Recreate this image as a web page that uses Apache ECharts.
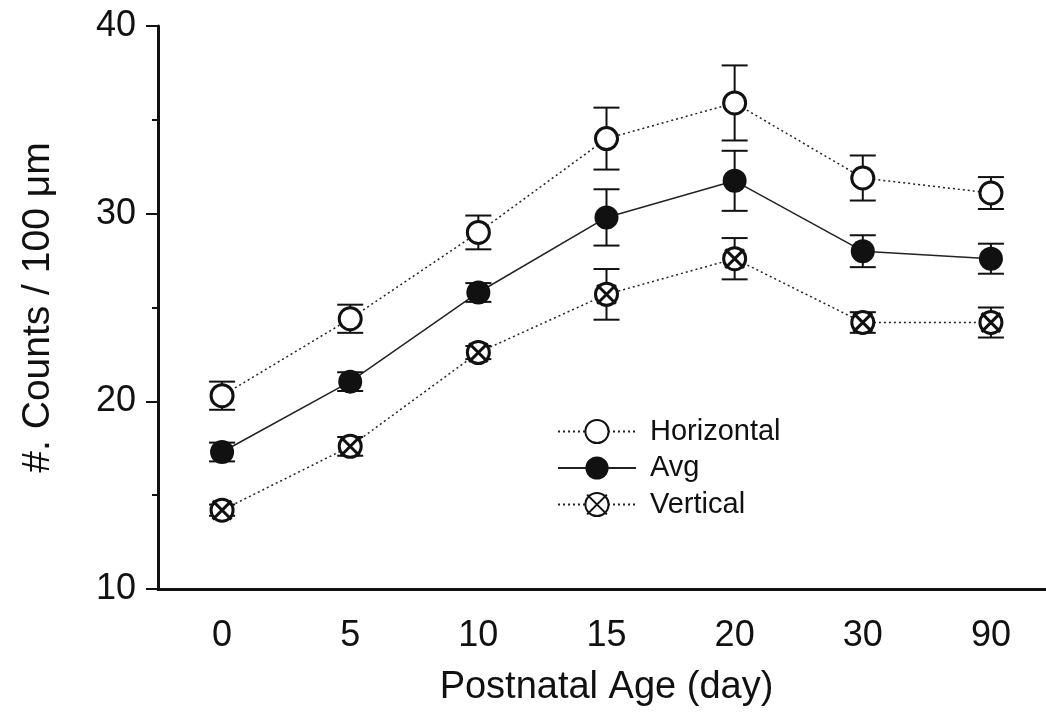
<!DOCTYPE html>
<html>
<head>
<meta charset="utf-8">
<script src="https://cdn.jsdelivr.net/npm/echarts@6/dist/echarts.min.js"></script>
<style>
  html, body { margin: 0; padding: 0; background: #fff; }
  #chart { width: 1046px; height: 724px; }
</style>
</head>
<body>
<div id="chart"></div>
<script>
// 数据
const ages = ['0', '5', '10', '15', '20', '30', '90'];
const horizontal = [20.3, 24.4, 29.0, 34.0, 35.9, 31.9, 31.1];
const horizontalErr = [0.75, 0.75, 0.9, 1.65, 2.0, 1.2, 0.85];
const avg = [17.3, 21.05, 25.8, 29.8, 31.75, 28.0, 27.6];
const avgErr = [0.5, 0.5, 0.5, 1.5, 1.6, 0.85, 0.8];
const vertical = [14.2, 17.6, 22.6, 25.7, 27.6, 24.2, 24.2];
const verticalErr = [0.3, 0.5, 0.35, 1.35, 1.1, 0.55, 0.8];

const FONT = '"Liberation Sans", Arial, sans-serif';
const INK = '#111';

// 带叉的圆圈
const crossCircle = 'path://M0,10A10,10 0 1,1 20,10A10,10 0 1,1 0,10Z M1.5,1.5L18.5,18.5M18.5,1.5L1.5,18.5';

// 误差线
function errorSeries(name, values, errs) {
    return {
        type: 'custom',
        name: name + ' err',
        z: 1,
        silent: true,
        data: values.map((v, i) => [i, v - errs[i], v + errs[i]]),
        renderItem: (params, api) => {
            const lo = api.coord([api.value(0), api.value(1)]);
            const hi = api.coord([api.value(0), api.value(2)]);
            const hw = 13;
            const style = { stroke: INK, lineWidth: 2 };
            return {
                type: 'group',
                children: [
                    { type: 'line', shape: { x1: lo[0], y1: lo[1], x2: hi[0], y2: hi[1] }, style },
                    { type: 'line', shape: { x1: lo[0] - hw, y1: lo[1], x2: lo[0] + hw, y2: lo[1] }, style },
                    { type: 'line', shape: { x1: hi[0] - hw, y1: hi[1], x2: hi[0] + hw, y2: hi[1] }, style }
                ]
            };
        }
    };
}

const chart = echarts.init(document.getElementById('chart'));

chart.setOption({
    backgroundColor: '#fff',
    animation: false,
    grid: { left: 158, top: 26, bottom: 135, right: -9, outerBoundsMode: 'none', containLabel: false },
    legend: {
        orient: 'vertical',
        left: 552,
        top: 412,
        itemWidth: 78,
        itemHeight: 29,
        itemGap: 7.5,
        data: ['Horizontal', 'Avg', 'Vertical'],
        textStyle: { fontFamily: FONT, fontSize: 29, color: INK, lineHeight: 29, padding: [0, 0, 0, 9] }
    },
    xAxis: {
        type: 'category',
        data: ages,
        boundaryGap: true,
        name: 'Postnatal Age (day)',
        nameLocation: 'middle',
        nameGap: 80,
        nameTextStyle: { fontFamily: FONT, fontSize: 38, color: INK },
        axisLine: { lineStyle: { color: INK, width: 3 } },
        axisTick: { alignWithLabel: true, length: 12, lineStyle: { color: INK, width: 2 } },
        axisLabel: { fontFamily: FONT, fontSize: 36, color: INK, margin: 29 },
        splitLine: { show: false }
    },
    yAxis: {
        type: 'value',
        min: 10,
        max: 40,
        interval: 10,
        name: '#. Counts / 100 μm',
        nameLocation: 'middle',
        nameGap: 100,
        nameTextStyle: { fontFamily: FONT, fontSize: 39, color: INK },
        axisLine: { show: true, lineStyle: { color: INK, width: 3 } },
        axisTick: { show: true, length: 12, lineStyle: { color: INK, width: 2 } },
        minorTick: { show: true, splitNumber: 2, length: 6, lineStyle: { color: INK, width: 2 } },
        axisLabel: { fontFamily: FONT, fontSize: 36, color: INK, margin: 22 },
        splitLine: { show: false }
    },
    series: [
        errorSeries('Horizontal', horizontal, horizontalErr),
        errorSeries('Avg', avg, avgErr),
        errorSeries('Vertical', vertical, verticalErr),
        {
            type: 'line',
            name: 'Horizontal',
            z: 3,
            data: horizontal,
            symbol: 'circle',
            symbolSize: 22,
            lineStyle: { color: '#222', width: 1.5, type: [2, 3] },
            itemStyle: { color: '#fff', borderColor: INK, borderWidth: 3 }
        },
        {
            type: 'line',
            name: 'Avg',
            z: 3,
            data: avg,
            symbol: 'circle',
            symbolSize: 24,
            lineStyle: { color: '#222', width: 1.5, type: 'solid' },
            itemStyle: { color: INK, borderColor: INK, borderWidth: 0 }
        },
        {
            type: 'line',
            name: 'Vertical',
            z: 3,
            data: vertical,
            symbol: crossCircle,
            symbolSize: 22,
            lineStyle: { color: '#222', width: 1.5, type: [2, 3] },
            itemStyle: { color: '#fff', borderColor: INK, borderWidth: 3 }
        }
    ]
});
</script>
</body>
</html>
